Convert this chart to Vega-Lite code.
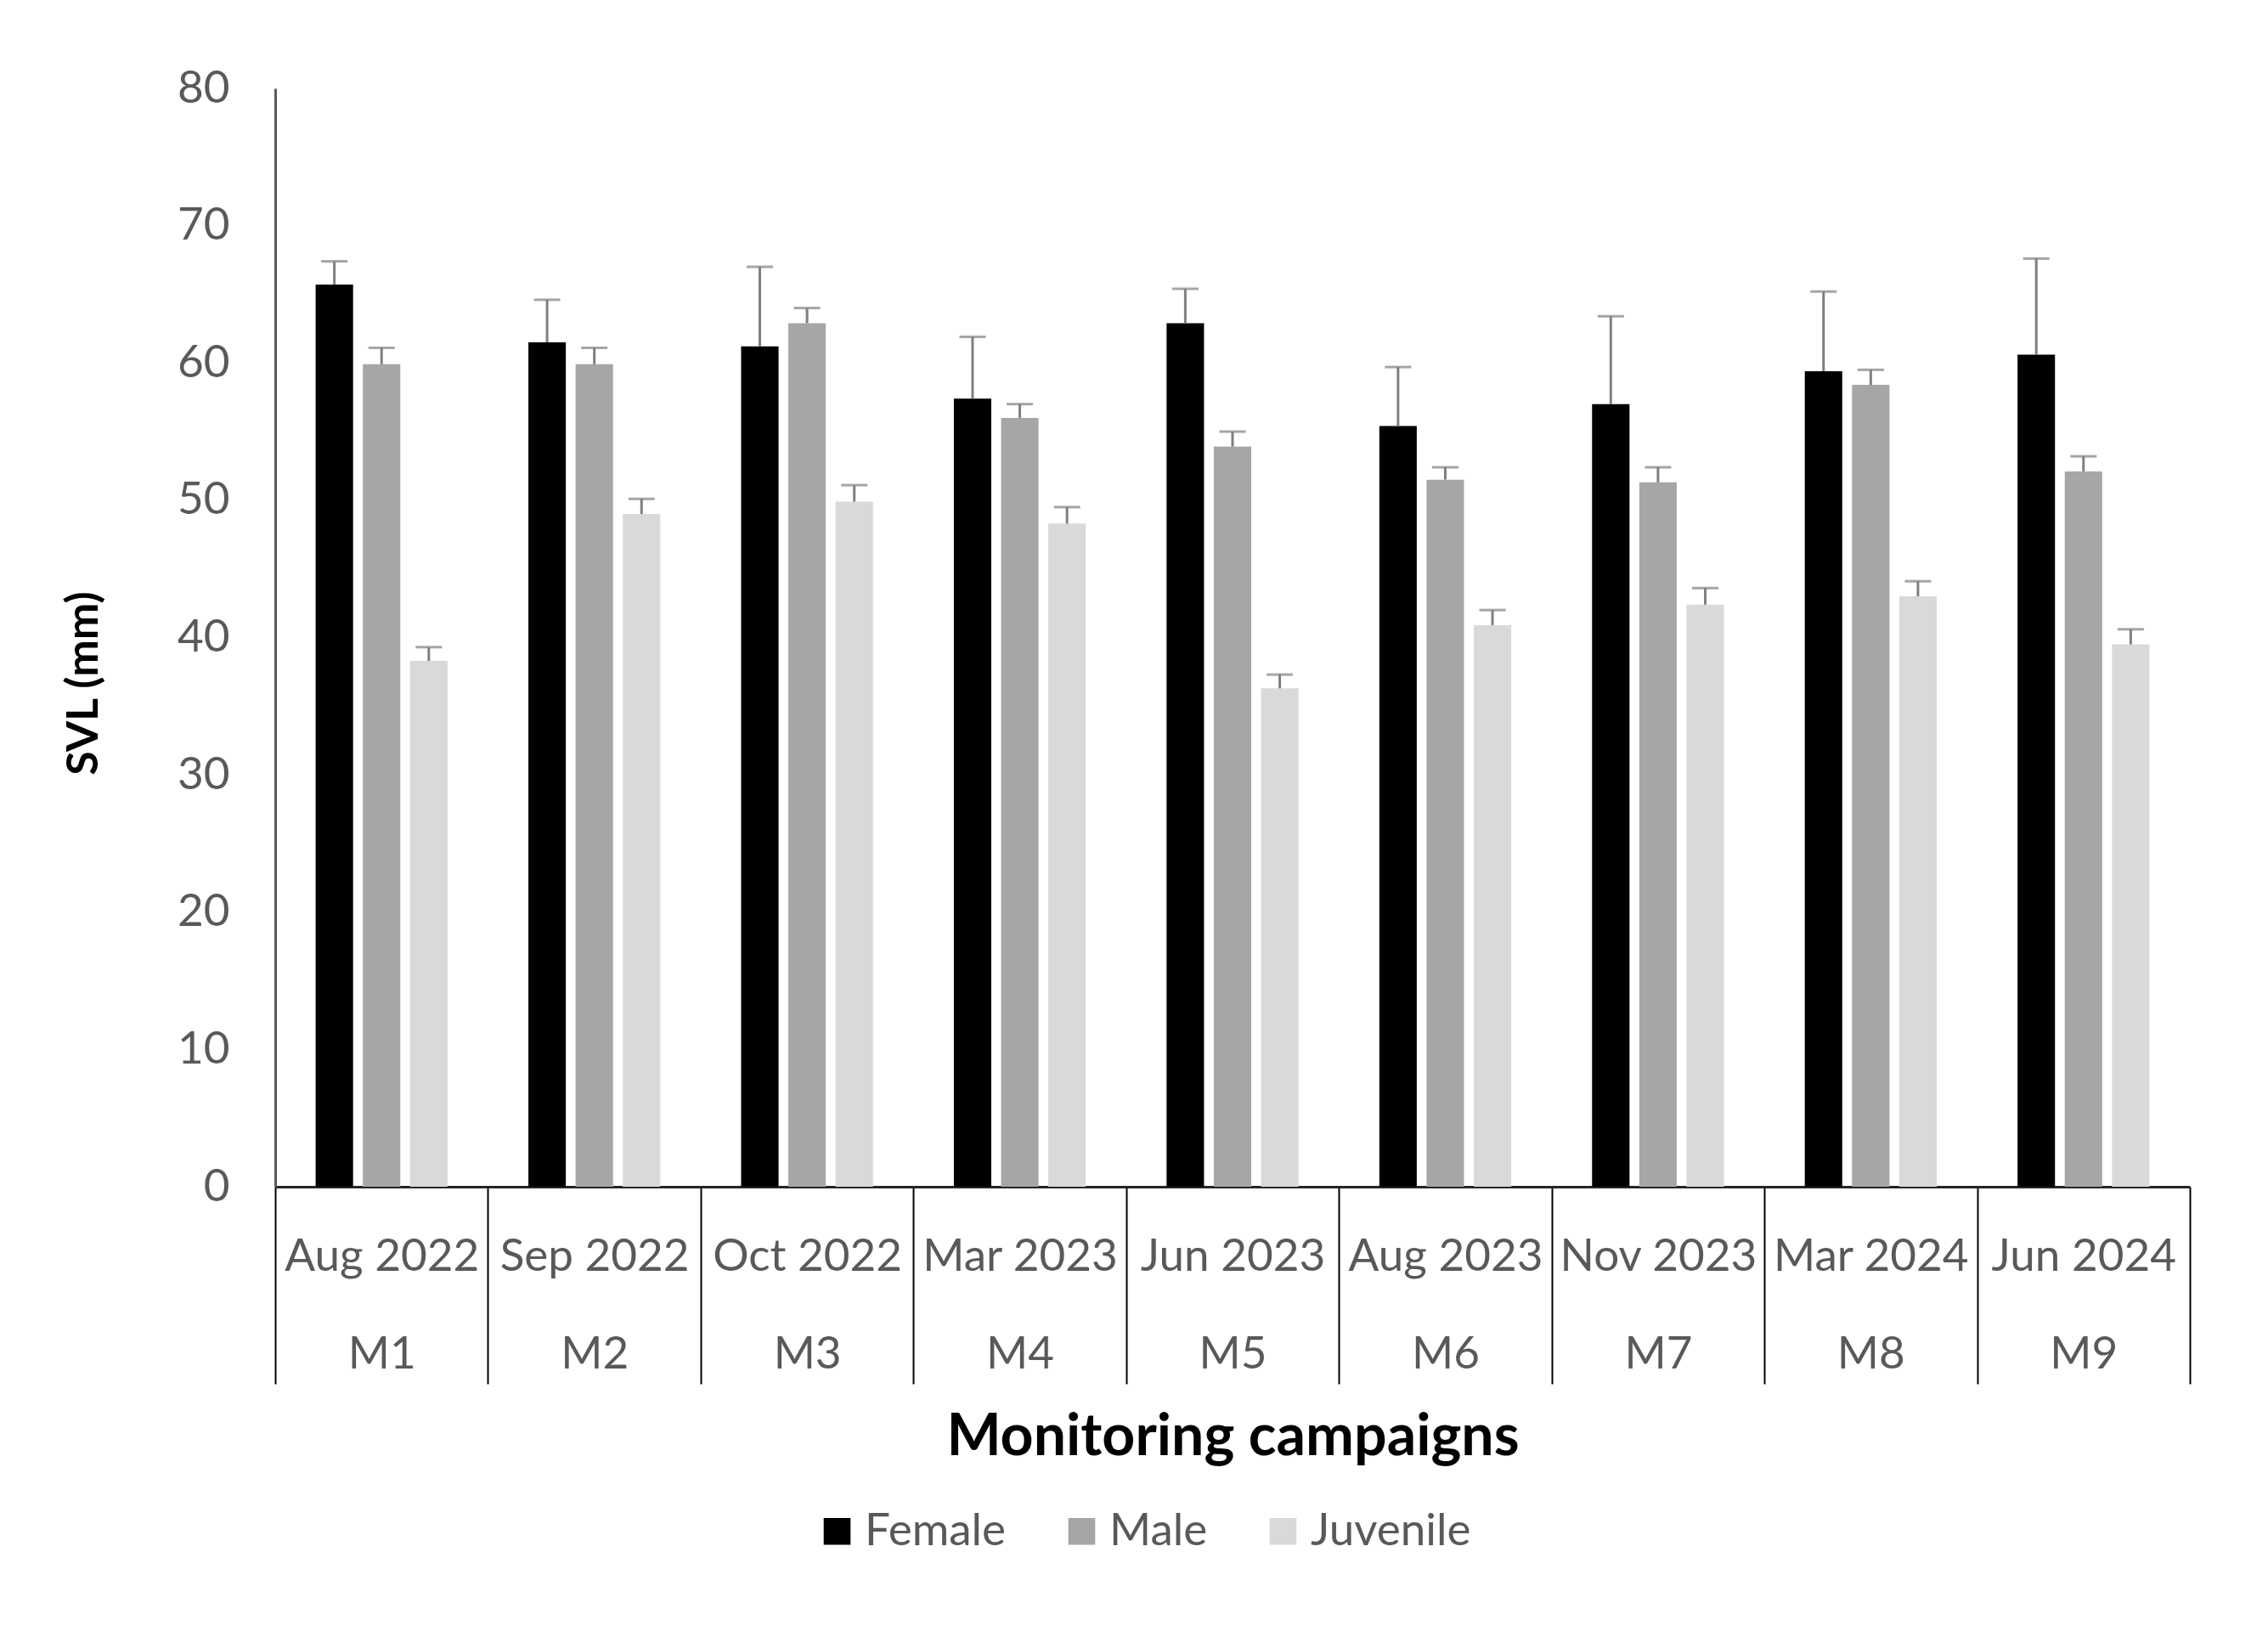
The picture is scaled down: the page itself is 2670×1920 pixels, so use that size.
{
  "$schema": "https://vega.github.io/schema/vega-lite/v6.json",
  "width": 2254,
  "height": 1293,
  "autosize": {"type": "none"},
  "padding": {"left": 324, "top": 104, "right": 92, "bottom": 523},
  "background": "white",
  "config": {"font": "Lato", "view": {"stroke": null}},
  "data": {
    "values": [
      {"campaign": "Aug 2022|M1", "group": "Female", "mean": 65.7, "upper": 67.4},
      {"campaign": "Aug 2022|M1", "group": "Male", "mean": 59.9, "upper": 61.1},
      {"campaign": "Aug 2022|M1", "group": "Juvenile", "mean": 38.3, "upper": 39.3},
      {"campaign": "Sep 2022|M2", "group": "Female", "mean": 61.5, "upper": 64.6},
      {"campaign": "Sep 2022|M2", "group": "Male", "mean": 59.9, "upper": 61.1},
      {"campaign": "Sep 2022|M2", "group": "Juvenile", "mean": 49.0, "upper": 50.1},
      {"campaign": "Oct 2022|M3", "group": "Female", "mean": 61.2, "upper": 67.0},
      {"campaign": "Oct 2022|M3", "group": "Male", "mean": 62.9, "upper": 64.0},
      {"campaign": "Oct 2022|M3", "group": "Juvenile", "mean": 49.9, "upper": 51.1},
      {"campaign": "Mar 2023|M4", "group": "Female", "mean": 57.4, "upper": 61.9},
      {"campaign": "Mar 2023|M4", "group": "Male", "mean": 56.0, "upper": 57.0},
      {"campaign": "Mar 2023|M4", "group": "Juvenile", "mean": 48.3, "upper": 49.5},
      {"campaign": "Jun 2023|M5", "group": "Female", "mean": 62.9, "upper": 65.4},
      {"campaign": "Jun 2023|M5", "group": "Male", "mean": 53.9, "upper": 55.0},
      {"campaign": "Jun 2023|M5", "group": "Juvenile", "mean": 36.3, "upper": 37.3},
      {"campaign": "Aug 2023|M6", "group": "Female", "mean": 55.4, "upper": 59.7},
      {"campaign": "Aug 2023|M6", "group": "Male", "mean": 51.5, "upper": 52.4},
      {"campaign": "Aug 2023|M6", "group": "Juvenile", "mean": 40.9, "upper": 42.0},
      {"campaign": "Nov 2023|M7", "group": "Female", "mean": 57.0, "upper": 63.4},
      {"campaign": "Nov 2023|M7", "group": "Male", "mean": 51.3, "upper": 52.4},
      {"campaign": "Nov 2023|M7", "group": "Juvenile", "mean": 42.4, "upper": 43.6},
      {"campaign": "Mar 2024|M8", "group": "Female", "mean": 59.4, "upper": 65.2},
      {"campaign": "Mar 2024|M8", "group": "Male", "mean": 58.4, "upper": 59.5},
      {"campaign": "Mar 2024|M8", "group": "Juvenile", "mean": 43.0, "upper": 44.1},
      {"campaign": "Jun 2024|M9", "group": "Female", "mean": 60.6, "upper": 67.6},
      {"campaign": "Jun 2024|M9", "group": "Male", "mean": 52.1, "upper": 53.2},
      {"campaign": "Jun 2024|M9", "group": "Juvenile", "mean": 39.5, "upper": 40.6}
    ]
  },
  "encoding": {
    "x": {
      "field": "campaign",
      "type": "nominal",
      "sort": null,
      "scale": {"paddingInner": 0, "paddingOuter": 0},
      "axis": {
        "title": "Monitoring campaigns",
        "titleFont": "Lato",
        "titleFontSize": 68,
        "titleFontWeight": "bold",
        "titleColor": "#000000",
        "titleY": 315,
        "titleBaseline": "alphabetic",
        "labelExpr": "split(datum.label, '|')",
        "labelLineHeight": 115,
        "labelFontSize": 53,
        "labelLimit": 0,
        "labelColor": "#595959",
        "labelAngle": 0,
        "labelBaseline": "alphabetic",
        "labelPadding": -134,
        "labelOverlap": false,
        "tickBand": "extent",
        "tickSize": 232,
        "tickColor": "#000000",
        "tickWidth": 2,
        "domainColor": "#262626",
        "domainWidth": 3
      }
    },
    "xOffset": {
      "field": "group",
      "type": "nominal",
      "sort": ["Female", "Male", "Juvenile"],
      "scale": {"paddingInner": 0.207, "paddingOuter": 0.856}
    }
  },
  "layer": [
    {
      "mark": {"type": "bar"},
      "encoding": {
        "y": {
          "field": "mean",
          "type": "quantitative",
          "scale": {"domain": [0, 80]},
          "axis": {
            "title": "SVL (mm)",
            "titleFontSize": 52,
            "titleFontWeight": "bold",
            "titleColor": "#000000",
            "titleX": -226,
            "titleY": 700,
            "titleAlign": "center",
            "titleBaseline": "middle",
            "titleAngle": -90,
            "values": [0, 10, 20, 30, 40, 50, 60, 70, 80],
            "ticks": false,
            "grid": false,
            "labelPadding": 54,
            "labelFontSize": 53,
            "labelColor": "#595959",
            "domainColor": "#595959",
            "domainWidth": 3
          }
        },
        "color": {
          "field": "group",
          "type": "nominal",
          "sort": ["Female", "Male", "Juvenile"],
          "scale": {"domain": ["Female", "Male", "Juvenile"], "range": ["#000000", "#a6a6a6", "#d9d9d9"]},
          "legend": {
            "title": null,
            "orient": "none",
            "legendX": 635,
            "legendY": 1672,
            "direction": "horizontal",
            "symbolType": "square",
            "symbolSize": 1000,
            "symbolStrokeWidth": 0,
            "labelFontSize": 53,
            "labelLimit": 0,
            "labelColor": "#595959",
            "labelOffset": 6,
            "columnPadding": 62,
            "padding": 0
          }
        }
      }
    },
    {
      "mark": {"type": "rule", "color": "#7f7f7f", "strokeWidth": 3},
      "encoding": {
        "y": {"field": "mean", "type": "quantitative"},
        "y2": {"field": "upper"}
      }
    },
    {
      "mark": {"type": "tick", "color": "#7f7f7f", "thickness": 3, "size": 31, "orient": "horizontal"},
      "encoding": {
        "y": {"field": "upper", "type": "quantitative"}
      }
    }
  ]
}
